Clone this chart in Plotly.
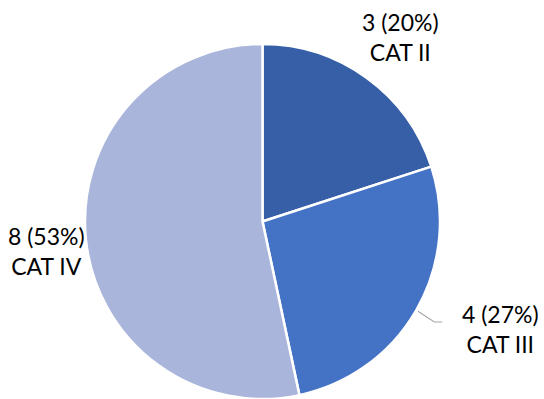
import math
import plotly.graph_objects as go

categories = ["CAT II", "CAT III", "CAT IV"]
values = [3, 4, 8]
colors = ["#365FA8", "#4472C4", "#A9B5DA"]

W, H = 544, 399
CX, CY, R = 262.5, 221.5, 177.5

# label radial distance and nudges (layout styling)
label_dist = [231, 255, 218]
label_nudge = [(2, 2), (17, -20), (1, 7)]

fig = go.Figure(go.Pie(
    labels=categories, values=values, sort=False, direction="clockwise",
    rotation=0, textinfo="none", hoverinfo="label+value+percent",
    marker=dict(colors=colors, line=dict(color="white", width=2.5)),
    domain=dict(x=[(CX - R) / W, (CX + R) / W], y=[1 - (CY + R) / H, 1 - (CY - R) / H]),
    showlegend=False,
))

total = sum(values)
cum = 0
annotations = []
shapes = []
for i, (cat, v) in enumerate(zip(categories, values)):
    mid = (cum + v / 2) / total * 2 * math.pi
    cum += v
    d = label_dist[i]
    nx, ny = label_nudge[i]
    px = CX + d * math.sin(mid) + nx
    py = CY - d * math.cos(mid) + ny
    pct = round(v / total * 100)
    annotations.append(dict(
        x=px / W, y=1 - py / H, xref="paper", yref="paper",
        text=f"{v} ({pct}%)<br>{cat}", showarrow=False,
        font=dict(family="Lato", size=23, color="#000000"),
        xanchor="center", yanchor="middle", align="center",
    ))
    if i == 1:
        sx = CX + (R + 2) * math.sin(mid)
        sy = CY - (R + 2) * math.cos(mid)
        ex, ey = px - 58, py - 7
        pts = [(sx, sy), (ex - 8, ey), (ex, ey)]
        path = "M " + " L ".join(f"{x / W},{1 - y / H}" for x, y in pts)
        shapes.append(dict(type="path", path=path, xref="paper", yref="paper",
                           line=dict(color="#A6A6A6", width=1.2)))

fig.update_layout(
    width=W, height=H, margin=dict(l=0, r=0, t=0, b=0),
    paper_bgcolor="white", plot_bgcolor="white",
    annotations=annotations, shapes=shapes,
)
fig.write_html("out.html")
